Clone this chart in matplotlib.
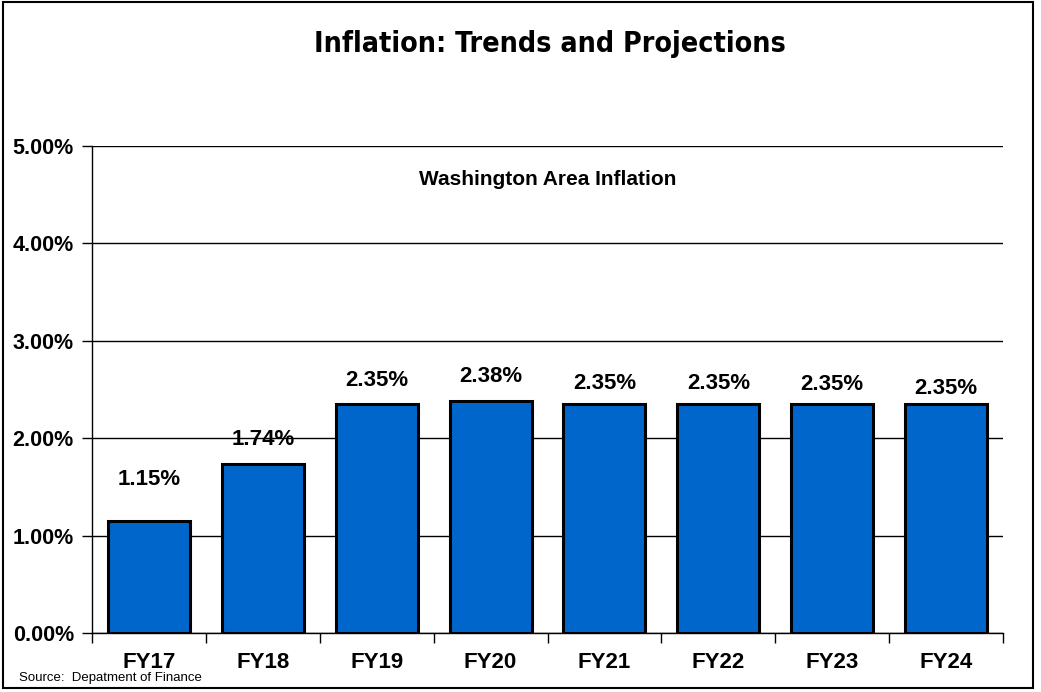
import matplotlib
matplotlib.use("Agg")
import matplotlib.pyplot as plt
from matplotlib.patches import Rectangle
from matplotlib.ticker import FuncFormatter, MultipleLocator

categories = ["FY17", "FY18", "FY19", "FY20", "FY21", "FY22", "FY23", "FY24"]
values = [1.15, 1.74, 2.35, 2.38, 2.35, 2.35, 2.35, 2.35]
labels = ["1.15%", "1.74%", "2.35%", "2.38%", "2.35%", "2.35%", "2.35%", "2.35%"]
label_offsets_pt = [22.5, 9.5, 9.5, 10.5, 7.5, 7.5, 6.5, 3.5]

plt.rcParams['font.family'] = ['Liberation Sans', 'DejaVu Sans']

fig = plt.figure(figsize=(10.41, 6.92), dpi=100)
fig.patches.append(Rectangle((3/1041, 1 - 688/692), 1030/1041, 686/692,
                             transform=fig.transFigure, fill=False,
                             edgecolor='black', linewidth=1.5))

ax = fig.add_axes([92/1041, 1 - 633/692, 911/1041, 487/692])
x = list(range(len(categories)))
ax.bar(x, values, width=0.72, color='#0066CC', edgecolor='black',
       linewidth=2.2, zorder=3)
ax.set_xlim(-0.5, len(categories) - 0.5)
ax.set_ylim(0, 5)
ax.yaxis.set_major_locator(MultipleLocator(1))
ax.yaxis.set_major_formatter(FuncFormatter(lambda v, p: f"{v:.2f}%"))
ax.grid(axis='y', color='black', linewidth=1.0, zorder=0)
ax.set_axisbelow(True)

ax.set_xticks([i - 0.5 for i in range(len(categories) + 1)])
ax.set_xticklabels([])
ax.set_xticks(x, minor=True)
ax.set_xticklabels(categories, minor=True)
ax.tick_params(axis='x', which='major', length=7, width=1, direction='out')
ax.tick_params(axis='x', which='minor', length=0, pad=14, labelsize=16)
for t in ax.get_xticklabels(minor=True):
    t.set_fontweight('bold')
ax.tick_params(axis='y', length=7, width=1, labelsize=15.5, pad=6)
for t in ax.get_yticklabels():
    t.set_fontweight('bold')

for s in ['top', 'right']:
    ax.spines[s].set_visible(False)
ax.spines['left'].set_linewidth(1)
ax.spines['bottom'].set_linewidth(1)

for xi, v, lab, off in zip(x, values, labels, label_offsets_pt):
    ax.annotate(lab, (xi, v), xytext=(0, off), textcoords='offset points',
                ha='center', va='bottom', fontsize=16, fontweight='bold', zorder=4)

ax.text(0.5, 0.932, "Washington Area Inflation", transform=ax.transAxes,
        ha='center', va='center', fontsize=15, fontweight='bold')

fig.text(550/1041, 1 - 44/692, "Inflation: Trends and Projections",
         ha='center', va='center', fontsize=20.5, fontweight='bold',
         family='DejaVu Sans', fontstretch='condensed')

fig.text(19/1041, 1 - 678/692, "Source:  Depatment of Finance",
         ha='left', va='center', fontsize=9.5)

fig.savefig("out.png", dpi=100)
